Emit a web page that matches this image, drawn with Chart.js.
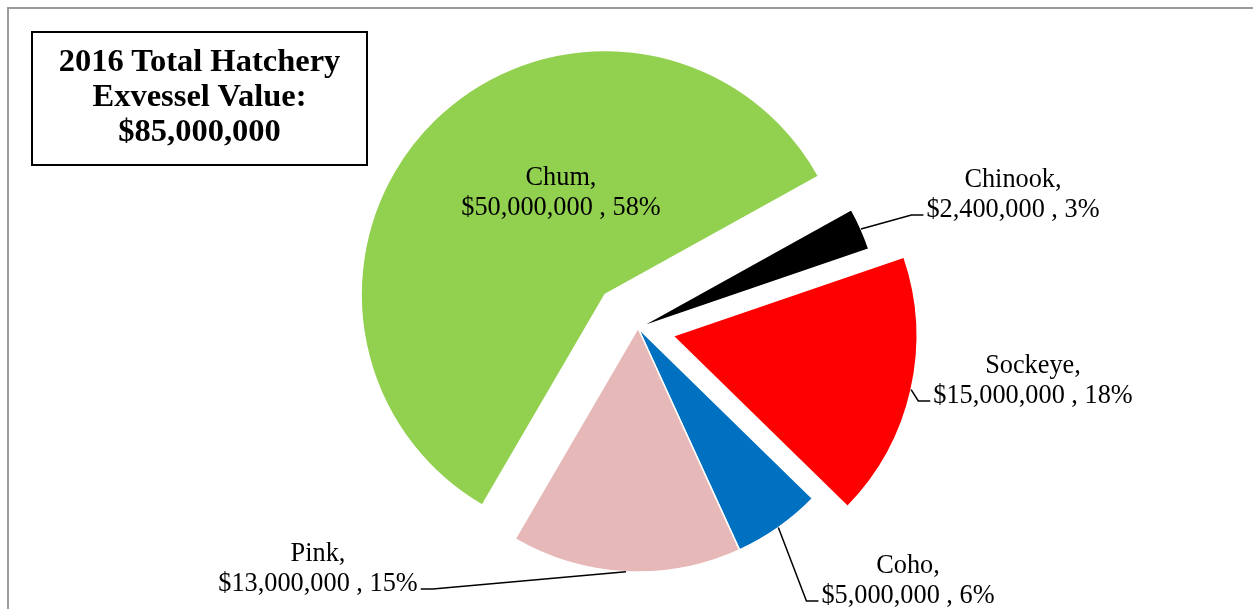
<!DOCTYPE html>
<html>
<head>
<meta charset="utf-8">
<title>2016 Total Hatchery Exvessel Value</title>
<script src="https://cdn.jsdelivr.net/npm/chart.js@4.4.1/dist/chart.umd.min.js"></script>
<style>
    html, body { margin: 0; padding: 0; background: #fff; overflow: hidden; }
    #wrap { position: relative; width: 1253px; height: 609px; }
    #pie { display: block; }
    #total-box {
        position: absolute;
        left: 31px;
        top: 31px;
        width: 337px;
        height: 135px;
        box-sizing: border-box;
        border: 2px solid #000;
        padding-top: 10px;
        text-align: center;
        font: bold 32.5px/35px "Liberation Serif", "Times New Roman", serif;
        color: #000;
    }
</style>
</head>
<body>
<div id="wrap">
    <canvas id="pie" width="1253" height="609"></canvas>
    <div id="total-box">2016 Total Hatchery<br>Exvessel Value:<br>$85,000,000</div>
</div>
<script>
// --- Values by species ---
const species = ['Chinook', 'Sockeye', 'Coho', 'Pink', 'Chum'];
const exvessel = [2400000, 15000000, 5000000, 13000000, 50000000];
const shares = ['3%', '18%', '6%', '15%', '58%'];

// --- Slice look ---
const sliceColors = ['#000000', '#FF0000', '#0070C0', '#E6B8B7', '#92D050'];
const explodeBy = [0, 36, 0, 0, 47];

// Label anchors, relative to the pie centre: centre of text, first baseline.
// side = which end of the second line the leader line meets.
const labelSpots = [
    { dx: 375, dy: -141, side: 'left' },
    { dx: 395, dy: 45, side: 'left' },
    { dx: 270, dy: 245, side: 'left' },
    { dx: -320, dy: 233, side: 'right' },
    { dx: -77, dy: -143, side: null }
];
const lineGap = 30;

const money = v => '$' + v.toLocaleString('en-US');

// Draw each arc pushed out along its middle angle (keeps the radius unchanged)
const explodePlugin = {
    id: 'explodeSlices',
    beforeDatasetDraw(chart, args) {
        const ctx = chart.ctx;
        args.meta.data.forEach((arc, i) => {
            const mid = (arc.startAngle + arc.endAngle) / 2;
            ctx.save();
            ctx.translate(Math.cos(mid) * explodeBy[i], Math.sin(mid) * explodeBy[i]);
            arc.draw(ctx);
            ctx.restore();
        });
        return false;
    }
};

// Category name, value and share, with leader lines for the outside labels
const labelPlugin = {
    id: 'sliceLabels',
    afterDatasetsDraw(chart) {
        const ctx = chart.ctx;
        const arcs = chart.getDatasetMeta(0).data;
        ctx.save();
        ctx.font = '26.3px "Liberation Serif", "Times New Roman", serif';
        ctx.fillStyle = '#000';
        ctx.strokeStyle = '#000';
        ctx.lineWidth = 1.5;
        ctx.textAlign = 'center';
        ctx.textBaseline = 'alphabetic';
        arcs.forEach((arc, i) => {
            const spot = labelSpots[i];
            const cx = arc.x + spot.dx;
            const y1 = arc.y + spot.dy;
            const y2 = y1 + lineGap;
            const line1 = species[i] + ',';
            const line2 = money(exvessel[i]) + ' , ' + shares[i];
            ctx.fillText(line1, cx, y1);
            ctx.fillText(line2, cx, y2);

            if (spot.side) {
                const w = ctx.measureText(line2).width;
                const mid = (arc.startAngle + arc.endAngle) / 2;
                const r = arc.outerRadius + explodeBy[i];
                const sx = arc.x + Math.cos(mid) * r;
                const sy = arc.y + Math.sin(mid) * r;
                const ex = spot.side === 'left' ? cx - w / 2 - 3 : cx + w / 2 + 3;
                const kx = spot.side === 'left' ? ex - 12 : ex + 12;
                const ey = y2 - 2;
                ctx.beginPath();
                ctx.moveTo(sx, sy);
                ctx.lineTo(kx, ey);
                ctx.lineTo(ex, ey);
                ctx.stroke();
            }
        });
        ctx.restore();
    }
};

// Thin grey frame along the top and left
const framePlugin = {
    id: 'frame',
    beforeDraw(chart) {
        const ctx = chart.ctx;
        ctx.save();
        ctx.strokeStyle = '#9a9a9a';
        ctx.lineWidth = 2;
        ctx.beginPath();
        ctx.moveTo(8, chart.height);
        ctx.lineTo(8, 8);
        ctx.lineTo(chart.width, 8);
        ctx.stroke();
        ctx.restore();
    }
};

new Chart(document.getElementById('pie'), {
    type: 'pie',
    data: {
        labels: species,
        datasets: [{
            data: exvessel,
            backgroundColor: sliceColors,
            borderColor: '#ffffff',
            borderWidth: 1.5
        }]
    },
    options: {
        responsive: false,
        animation: false,
        rotation: 61,
        radius: 244,
        layout: { padding: { left: 23, right: 0, top: 47, bottom: 0 } },
        plugins: {
            legend: { display: false },
            tooltip: { enabled: false }
        }
    },
    plugins: [framePlugin, explodePlugin, labelPlugin]
});
</script>
</body>
</html>
